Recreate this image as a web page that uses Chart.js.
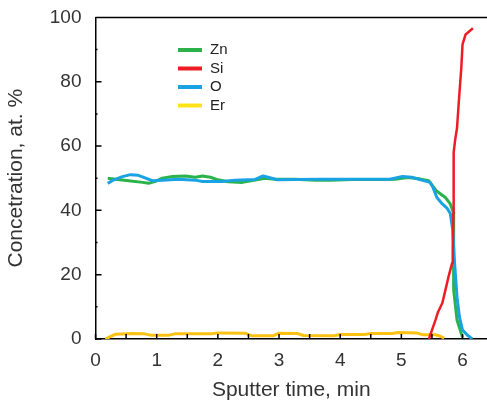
<!DOCTYPE html>
<html>
<head>
<meta charset="utf-8">
<script src="https://cdn.jsdelivr.net/npm/chart.js@4"></script>
<style>
  html, body { margin:0; padding:0; background:#fff; }
  #wrap { width:487px; height:407px; position:relative; }
</style>
</head>
<body>
<div id="wrap"><canvas id="depthChart"></canvas></div>
<script>
// depth profile, atomic concentration vs sputter time
const znTime = [0.2,0.33,0.54,0.77,0.87,0.98,1.09,1.26,1.47,1.63,1.75,1.88,2.0,2.17,2.4,2.61,2.77,2.93,3.26,3.6,3.83,4.2,4.6,4.9,5.1,5.3,5.45,5.57,5.72,5.8,5.85,5.85,5.86,5.91,6.0];
const znVal  = [50.0,49.7,49.2,48.7,48.4,49.0,50.0,50.5,50.7,50.3,50.7,50.3,49.5,48.9,48.7,49.4,50.0,49.7,49.7,49.4,49.4,49.6,49.6,49.7,50.2,49.8,49.2,46.1,44.0,42.0,39.4,28.6,15.2,5.9,0.5];

const siTime = [5.45,5.56,5.6,5.67,5.72,5.77,5.83,5.84,5.85,5.85,5.86,5.88,5.91,5.94,5.98,6.0,6.05,6.17];
const siVal  = [0,6.0,8.4,11.2,15.2,19.3,23.6,28.6,39.0,49.0,58.0,62.0,65.6,74.0,84.3,91.6,94.7,96.6];

const oTime = [0.2,0.3,0.44,0.57,0.7,0.82,0.93,1.09,1.36,1.63,1.75,2.07,2.28,2.61,2.74,2.82,2.97,3.26,3.7,4.2,4.81,5.02,5.17,5.33,5.47,5.52,5.58,5.67,5.75,5.8,5.84,5.87,5.91,5.95,6.0,6.08,6.16];
const oVal  = [48.4,49.5,50.5,51.1,50.9,50.0,49.2,49.4,49.7,49.4,49.0,49.0,49.4,49.6,50.7,50.3,49.5,49.6,49.7,49.7,49.7,50.5,50.3,49.4,48.7,47.0,44.0,42.0,40.6,39.0,33.8,23.6,13.0,6.8,2.8,1.2,0];

const erTime = [0.16,0.25,0.33,0.6,0.8,0.9,1.2,1.3,1.9,2.0,2.45,2.55,2.9,3.0,3.3,3.4,3.9,4.0,4.4,4.5,4.85,4.95,5.25,5.35,5.55,5.62,5.7];
const erVal  = [0,0.8,1.5,1.7,1.6,1.2,1.2,1.6,1.6,1.9,1.8,1.0,1.0,1.8,1.7,1.1,1.0,1.4,1.4,1.7,1.7,2.0,1.9,1.3,1.3,1.0,0.3];

const xTicks = [0,1,2,3,4,5,6];
const yTicks = [0,20,40,60,80,100];

const pts = (t, v) => t.map((x, i) => ({ x, y: v[i] }));

// inward tick marks + top frame line
const frame = {
  id: 'frame',
  afterDraw(chart) {
    const { ctx, chartArea: a, scales: { x, y } } = chart;
    ctx.save();
    ctx.strokeStyle = '#000';
    ctx.lineWidth = 1.5;
    ctx.beginPath();
    ctx.moveTo(a.left, a.top); ctx.lineTo(a.right, a.top);
    for (let v = 0; v <= x.max; v += 0.5) {
      const px = x.getPixelForValue(v);
      ctx.moveTo(px, a.bottom); ctx.lineTo(px, a.bottom - 5);
    }
    for (let v = 0; v <= 100; v += 10) {
      const py = y.getPixelForValue(v);
      ctx.moveTo(a.left, py); ctx.lineTo(a.left + (v % 20 === 0 ? 6 : 2), py);
    }
    ctx.stroke();
    ctx.restore();
  }
};

// legend inside the plot
const innerLegend = {
  id: 'innerLegend',
  afterDraw(chart) {
    const ctx = chart.ctx;
    ctx.save();
    ctx.font = '15px "Liberation Sans", Arial, sans-serif';
    ctx.textBaseline = 'middle';
    chart.data.datasets.forEach((ds, i) => {
      const yy = 50 + i * 18.5;
      ctx.strokeStyle = ds.legendColor || ds.borderColor;
      ctx.lineWidth = 4;
      ctx.beginPath();
      ctx.moveTo(178, yy); ctx.lineTo(202, yy);
      ctx.stroke();
      ctx.fillStyle = '#222';
      ctx.fillText(ds.label, 210, yy);
    });
    ctx.restore();
  }
};

const tickFont = { family: '"Liberation Sans", Arial, sans-serif', size: 19 };
const titleFont = { family: '"Liberation Sans", Arial, sans-serif', size: 21 };

new Chart(document.getElementById('depthChart'), {
  type: 'line',
  data: {
    datasets: [
      { label: 'Zn', data: pts(znTime, znVal), borderColor: '#2bb34b', borderWidth: 3, order: 2 },
      { label: 'Si', data: pts(siTime, siVal), borderColor: '#ee1c25', borderWidth: 2.5, order: 0 },
      { label: 'O',  data: pts(oTime, oVal),  borderColor: '#1aa3e2', borderWidth: 3, order: 1 },
      { label: 'Er', data: pts(erTime, erVal), borderColor: '#fbc214', legendColor: '#ffe31a', borderWidth: 3, order: 3 }
    ]
  },
  options: {
    responsive: true,
    maintainAspectRatio: false,
    animation: false,
    elements: { point: { radius: 0 }, line: { tension: 0, borderJoinStyle: 'round' } },
    layout: { padding: { top: 17, right: 0, left: 0, bottom: 0 } },
    plugins: { legend: { display: false }, tooltip: { enabled: false } },
    scales: {
      x: {
        type: 'linear', min: 0, max: 6.4,
        afterBuildTicks: s => { s.ticks = xTicks.map(v => ({ value: v })); },
        afterFit: s => { s.height = 68; },
        grid: { display: false },
        border: { display: true, color: '#000', width: 1.5 },
        ticks: { color: '#333', font: tickFont, padding: 2, maxRotation: 0 },
        title: { display: true, text: 'Sputter time, min', color: '#333', font: titleFont, padding: { top: 7 } }
      },
      y: {
        min: 0, max: 100,
        afterBuildTicks: s => { s.ticks = yTicks.map(v => ({ value: v })); },
        afterFit: s => { s.width = 95.5; },
        grid: { display: false },
        border: { display: true, color: '#000', width: 1.5 },
        ticks: { color: '#333', font: tickFont, padding: 6 },
        title: { display: true, text: 'Concetration, at. %', color: '#333', font: titleFont, padding: { bottom: 0 } }
      }
    }
  },
  plugins: [frame, innerLegend]
});
</script>
</body>
</html>
